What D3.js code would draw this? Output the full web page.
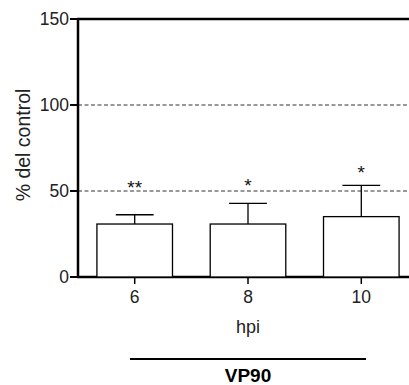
<!DOCTYPE html>
<html>
<head>
	<script src="https://cdn.jsdelivr.net/npm/d3@7"></script>
	<style>
		html, body { padding: 0; margin: 0; background: #fff; }
		text { font-family: "Liberation Sans", Arial, sans-serif; }
	</style>
</head>
<body>
	<script>
		// data
		var hours = ["6", "8", "10"];
		var means = [30.8, 30.8, 35.1];
		var errTop = [36.2, 42.8, 53.3];
		var stars = ["**", "*", "*"];
		var starLevel = [54, 55.4, 62.8];
		var yTicks = [0, 50, 100, 150];
		var refLines = [50, 100];

		var width = 409, height = 385;
		var svg = d3.select('body').append('svg')
			.attr('width', width)
			.attr('height', height);

		var y = d3.scaleLinear().domain([0, 150]).range([277, 19]);
		var x = d3.scaleBand().domain(hours).range([78, 418]).paddingInner(0.333).paddingOuter(0.167);

		// reference dashed lines
		svg.selectAll('line.ref').data(refLines).enter().append('line')
			.attr('x1', 78).attr('x2', width)
			.attr('y1', function(d) { return y(d); })
			.attr('y2', function(d) { return y(d); })
			.attr('stroke', '#333').attr('stroke-width', 1)
			.attr('stroke-dasharray', '4,2.5');

		// top frame line
		svg.append('line')
			.attr('x1', 77).attr('x2', width)
			.attr('y1', y(150)).attr('y2', y(150))
			.attr('stroke', '#000').attr('stroke-width', 2.5);

		// baseline
		svg.append('line')
			.attr('x1', 77).attr('x2', width)
			.attr('y1', y(0)).attr('y2', y(0))
			.attr('stroke', '#000').attr('stroke-width', 2.5);

		// x ticks
		svg.selectAll('line.xt').data(hours).enter().append('line')
			.attr('x1', function(d) { return x(d) + x.bandwidth() / 2; })
			.attr('x2', function(d) { return x(d) + x.bandwidth() / 2; })
			.attr('y1', y(0)).attr('y2', y(0) + 7)
			.attr('stroke', '#000').attr('stroke-width', 1.5);

		// error bars
		var g = svg.selectAll('g.bar').data(hours).enter().append('g');
		g.append('line')
			.attr('x1', function(d) { return x(d) + x.bandwidth() / 2; })
			.attr('x2', function(d) { return x(d) + x.bandwidth() / 2; })
			.attr('y1', function(d, i) { return y(means[i]); })
			.attr('y2', function(d, i) { return y(errTop[i]); })
			.attr('stroke', '#000').attr('stroke-width', 1.3);
		g.append('line')
			.attr('x1', function(d) { return x(d) + x.bandwidth() / 4; })
			.attr('x2', function(d) { return x(d) + x.bandwidth() * 3 / 4; })
			.attr('y1', function(d, i) { return y(errTop[i]); })
			.attr('y2', function(d, i) { return y(errTop[i]); })
			.attr('stroke', '#000').attr('stroke-width', 1.3);

		// bars
		g.append('rect')
			.attr('x', function(d) { return x(d); })
			.attr('y', function(d, i) { return y(means[i]); })
			.attr('width', x.bandwidth())
			.attr('height', function(d, i) { return y(0) - y(means[i]); })
			.attr('fill', '#fff').attr('stroke', '#000').attr('stroke-width', 1.3);

		// significance stars (glyph sits high, so baseline below centre)
		g.append('text')
			.attr('x', function(d) { return x(d) + x.bandwidth() / 2; })
			.attr('y', function(d, i) { return y(starLevel[i]) + 10; })
			.attr('text-anchor', 'middle')
			.attr('font-size', 19)
			.attr('fill', '#111')
			.text(function(d, i) { return stars[i]; });

		// y axis
		svg.append('line')
			.attr('x1', 78).attr('x2', 78)
			.attr('y1', y(150) - 1).attr('y2', y(0) + 1)
			.attr('stroke', '#000').attr('stroke-width', 2.5);
		svg.selectAll('line.yt').data(yTicks).enter().append('line')
			.attr('x1', 70).attr('x2', 78)
			.attr('y1', function(d) { return y(d); })
			.attr('y2', function(d) { return y(d); })
			.attr('stroke', '#000').attr('stroke-width', 2);
		svg.selectAll('text.yl').data(yTicks).enter().append('text')
			.attr('x', 69)
			.attr('y', function(d) { return y(d); })
			.attr('dy', '0.35em')
			.attr('text-anchor', 'end')
			.attr('font-size', 17.5)
			.attr('fill', '#222')
			.text(function(d) { return d; });

		// x labels
		svg.selectAll('text.xl').data(hours).enter().append('text')
			.attr('x', function(d) { return x(d) + x.bandwidth() / 2; })
			.attr('y', 297)
			.attr('dy', '0.35em')
			.attr('text-anchor', 'middle')
			.attr('font-size', 17.5)
			.attr('fill', '#222')
			.text(function(d) { return d; });

		svg.append('text')
			.attr('x', x('8') + x.bandwidth() / 2)
			.attr('y', 327).attr('dy', '0.35em')
			.attr('text-anchor', 'middle')
			.attr('font-size', 18).attr('fill', '#222')
			.text('hpi');

		svg.append('text')
			.attr('transform', 'translate(23,145) rotate(-90)')
			.attr('dy', '0.35em')
			.attr('text-anchor', 'middle')
			.attr('font-size', 19.5).attr('fill', '#222')
			.text('% del control');

		// group bracket
		svg.append('line')
			.attr('x1', 130).attr('x2', 366)
			.attr('y1', 359).attr('y2', 359)
			.attr('stroke', '#000').attr('stroke-width', 2);
		svg.append('text')
			.attr('x', 248).attr('y', 375).attr('dy', '0.35em')
			.attr('text-anchor', 'middle')
			.attr('font-size', 19).attr('font-weight', 'bold')
			.text('VP90');
	</script>
</body>
</html>
